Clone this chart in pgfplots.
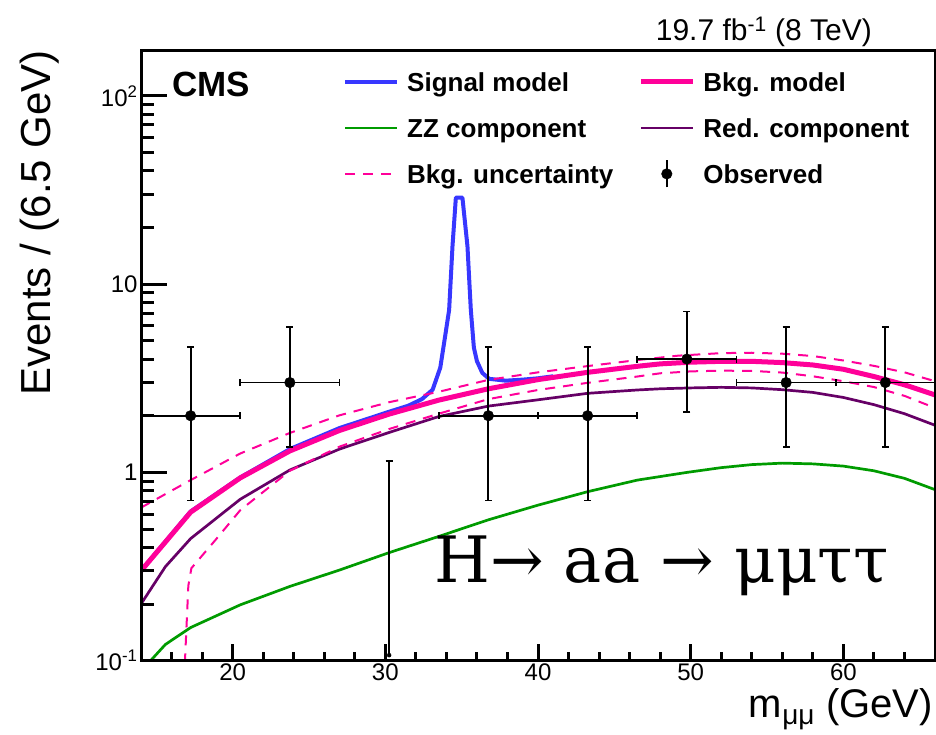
\documentclass[border=0pt]{standalone}
\usepackage{fontspec}
\setmainfont{Liberation Sans}
\newfontfamily\procfont{DejaVu Serif}
\usepackage{pgfplots}
\usepackage{pgfplotstable}
\pgfplotsset{compat=1.18}

\definecolor{sigblue}{RGB}{55,55,255}
\definecolor{bkgpink}{RGB}{255,0,153}
\definecolor{zzgreen}{RGB}{0,155,0}
\definecolor{redpurple}{RGB}{102,0,102}

% signal + background model
\pgfplotstableread{
x y
14 0.30
17.25 0.62
20.5 0.94
23.75 1.33
27 1.72
30.25 2.10
31.5 2.26
32.4 2.45
33.1 2.75
33.6 3.6
33.95 5.5
34.18 7.3
34.4 15.9
34.62 28.8
35.05 28.8
35.38 15.9
35.6 7.3
35.8 4.6
36.0 3.9
36.35 3.38
36.8 3.14
37.9 3.07
39 3.11
40 3.16
41 3.24
}\sigmodel

\pgfplotstableread{
x y
14 0.30
17.25 0.615
20.5 0.935
23.75 1.30
27 1.67
30.25 2.04
33.5 2.42
36.75 2.78
40 3.11
43.25 3.40
46.5 3.66
48 3.77
50 3.85
52 3.89
54 3.89
56 3.83
58 3.72
60 3.53
62 3.23
64 2.92
66 2.58
}\bkgmodel

\pgfplotstableread{
x y
14 0.088
15.6 0.122
17.25 0.15
20.5 0.198
23.75 0.248
27 0.303
30.25 0.375
33.5 0.457
36.75 0.56
40 0.67
43.25 0.79
46.5 0.91
49.75 1.00
52 1.06
54 1.10
56 1.12
58 1.11
60 1.08
62 1.02
64 0.93
66 0.81
}\zzcomp

\pgfplotstableread{
x y
14 0.20
15.6 0.316
17.25 0.445
20.5 0.72
23.75 1.03
27 1.33
30.25 1.63
33.5 1.98
36.75 2.25
40 2.43
43.25 2.63
46.5 2.74
48 2.78
50 2.81
52 2.83
54 2.81
56 2.75
58 2.66
60 2.50
62 2.29
64 2.05
66 1.78
}\redcomp

\pgfplotstableread{
x y
14 0.65
17.25 0.91
20.5 1.26
23.75 1.62
27 2.01
30.25 2.36
33.5 2.68
36.75 3.10
40 3.40
43.25 3.67
46.5 3.95
49.2 4.17
52 4.30
54 4.32
56 4.27
58 4.15
60 3.93
62 3.68
64 3.40
66 3.05
}\bkgup

\pgfplotstableread{
x y
16.84 0.05
16.88 0.10
17.1 0.25
17.3 0.31
18.9 0.44
20.5 0.63
23.75 1.02
27 1.37
30.25 1.70
33.5 2.05
36.75 2.45
40 2.74
43.25 2.99
46.5 3.23
48 3.36
50 3.44
52 3.47
54 3.46
56 3.39
58 3.24
60 3.05
62 2.84
64 2.55
66 2.20
}\bkgdown

% observed counts with asymmetric Poisson intervals
\pgfplotstableread{
x y xe yep yem
17.25 2 3.25 2.64 1.29
23.75 3 3.25 2.92 1.63
36.75 2 3.25 2.64 1.29
43.25 2 3.25 2.64 1.29
49.75 4 3.25 3.16 1.91
56.25 3 3.25 2.92 1.63
62.75 3 3.25 2.92 1.63
}\observed

\tikzset{axtick/.style={line width=3pt, black}}

\begin{document}
\begin{tikzpicture}
\path[use as bounding box] (0pt,0pt) rectangle (936pt,735pt);

\begin{axis}[name=main,
  at={(141pt,74.3pt)}, anchor=south west,
  scale only axis, width=794pt, height=609.7pt,
  xmin=14, xmax=66, ymin=0.1, ymax=173, ymode=log,
  axis line style={line width=3pt, black},
  tick align=inside, tick pos=left,
  major tick length=0pt, minor tick length=0pt,
  ticklabel style={font=\fontsize{24}{28}\selectfont},
  xtick={20,30,40,50,60}, xticklabels={20,30,40,50,60},
  ytick={0.1,1,10,100},
  yticklabels={10\textsuperscript{-1},1,10,10\textsuperscript{2}},
  legend columns=2,
  legend cell align=left,
  legend image code/.code={\draw[#1] (0pt,0pt) -- (52pt,0pt);},
  legend style={draw=none, fill=none, inner sep=0pt,
    at={(axis description cs:0.2544,0.9738)}, anchor=north west,
    font=\bfseries\fontsize{26}{30}\selectfont,
    nodes={inner sep=0pt, text height=24pt, text depth=5.4pt},
    column sep=8pt, row sep=16.6pt,
    /tikz/every even column/.append style={column sep=25pt}},
]
\addplot[sigblue, line width=4pt, line join=round] table[x=x,y=y] {\sigmodel};
\addlegendentry{Signal model}
\addplot[bkgpink, line width=5pt, line join=round] table[x=x,y=y] {\bkgmodel};
\addlegendentry{Bkg. model}
\addplot[zzgreen, line width=2.7pt] table[x=x,y=y] {\zzcomp};
\addlegendentry{ZZ component}
\addplot[redpurple, line width=2.7pt] table[x=x,y=y] {\redcomp};
\addlegendentry{Red. component}
\addplot[bkgpink, line width=2pt, dash pattern=on 10pt off 8pt] table[x=x,y=y] {\bkgup};
\addlegendentry{Bkg. uncertainty}
\addplot[bkgpink, line width=2pt, dash pattern=on 10pt off 8pt, forget plot] table[x=x,y=y] {\bkgdown};
\addplot[only marks, mark=*, mark size=5.3pt, black,
  legend image code/.code={
    \draw[black, line width=1.8pt] (26pt,-13.5pt) -- (26pt,13.5pt);
    \fill[black] (26pt,0pt) circle (5.3pt);},
  error bars/.cd, x dir=both, x explicit, y dir=both, y explicit,
  error bar style={line width=1.8pt, black},
  error mark options={rotate=90, line width=1.8pt, mark size=3.5pt, black}]
  table[x=x, y=y, x error=xe, y error plus=yep, y error minus=yem] {\observed};
\addlegendentry{Observed}
% empty bin: upper interval only
\addplot[only marks, mark=none, forget plot,
  error bars/.cd, y dir=plus, y explicit,
  error bar style={line width=1.8pt, black},
  error mark options={rotate=90, line width=1.8pt, mark size=3.5pt, black}]
  coordinates {(30.25,0.107) +- (0,1.043)};

% bold inward ticks
\pgfplotsinvokeforeach{20,30,40,50,60}{
  \draw[axtick] (axis cs:#1,0.1) -- ++(0pt,17pt);}
\pgfplotsinvokeforeach{16,18,22,24,26,28,32,34,36,38,42,44,46,48,52,54,56,58,62,64}{
  \draw[axtick] (axis cs:#1,0.1) -- ++(0pt,8.5pt);}
\pgfplotsinvokeforeach{0.1,1,10,100}{
  \draw[axtick] (axis cs:14,#1) -- ++(26pt,0pt);}
\pgfplotsinvokeforeach{0.2,0.3,0.4,0.5,0.6,0.7,0.8,0.9,2,3,4,5,6,7,8,9,20,30,40,50,60,70,80,90}{
  \draw[axtick] (axis cs:14,#1) -- ++(13pt,0pt);}
\end{axis}
\draw[line width=3pt, black] (main.south west) rectangle (main.north east);

\node[anchor=base west, inner sep=0pt, font=\bfseries\fontsize{35}{40}\selectfont] at (172pt,638.3pt) {CMS};
\node[anchor=base east, inner sep=0pt, font=\fontsize{30}{34}\selectfont] at (872pt,694.3pt) {19.7 fb\textsuperscript{-1} (8 TeV)};
\node[rotate=90, anchor=base east, inner sep=0pt, font=\fontsize{42}{48}\selectfont] at (50pt,685pt) {Events / (6.5 GeV)};
\node[anchor=base east, inner sep=0pt, font=\fontsize{40}{46}\selectfont] at (933pt,17pt) {m\textsubscript{μμ} (GeV)};
\node[anchor=base west, inner sep=0pt, font=\procfont\fontsize{64}{72}\selectfont] at (434pt,152pt) {H→ aa → μμττ};
\end{tikzpicture}
\end{document}
